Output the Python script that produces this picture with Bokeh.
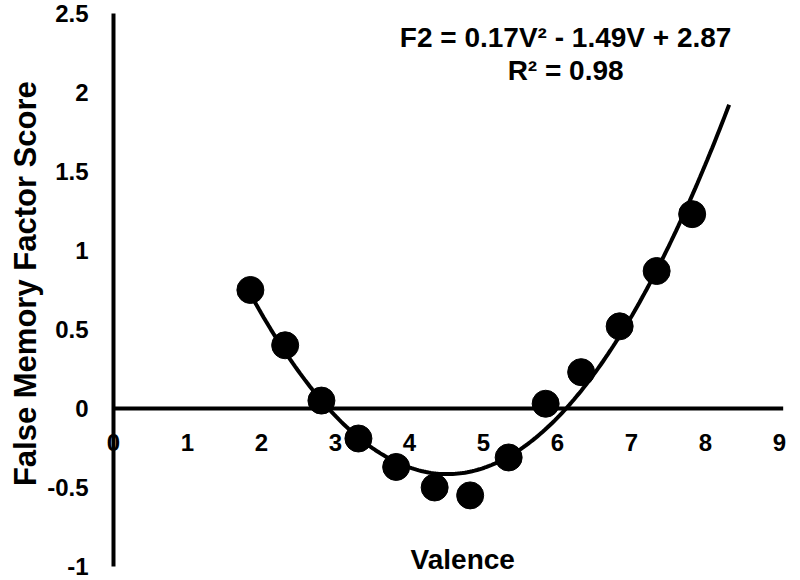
import numpy as np
from bokeh.plotting import figure
from bokeh.models import Range1d, Label
from bokeh.core.properties import value
from bokeh.embed import file_html
from bokeh.resources import INLINE

# ---- data ----
valence = [1.85, 2.32, 2.81, 3.31, 3.82, 4.34, 4.82, 5.34, 5.84, 6.32, 6.84, 7.34, 7.82]
f2_score = [0.75, 0.40, 0.05, -0.19, -0.37, -0.50, -0.55, -0.31, 0.03, 0.23, 0.52, 0.87, 1.23]
trend_extent = [1.8, 8.32]
x_ticks = [0, 1, 2, 3, 4, 5, 6, 7, 8, 9]
x_tick_labels = ["0", "1", "2", "3", "4", "5", "6", "7", "8", "9"]
y_ticks = [-1, -0.5, 0, 0.5, 1, 1.5, 2, 2.5]
y_tick_labels = ["-1", "-0.5", "0", "0.5", "1", "1.5", "2", "2.5"]
x_axis_end = 9.05
equation_text = "F2 = 0.17V\u00b2 - 1.49V + 2.87"
r2_text = "R\u00b2 = 0.98"
x_title = "Valence"
y_title = "False Memory Factor Score"

FONT = "Liberation Sans"

p = figure(width=800, height=580, output_backend="svg", toolbar_location=None,
           x_range=Range1d(-1.527, 9.284), y_range=Range1d(-1.0886, 2.582),
           x_axis_type=None, y_axis_type=None, min_border=0)
p.outline_line_color = None
p.grid.visible = False
p.background_fill_color = "white"
p.border_fill_color = "white"

# tick labels
p.text(x=[0] * len(y_ticks), y=y_ticks, text=y_tick_labels,
       text_font=value(FONT), text_font_style="bold", text_font_size="24px",
       text_color="black", text_align="right", text_baseline="middle", x_offset=-25)
p.text(x=x_ticks, y=[0] * len(x_ticks), text=x_tick_labels,
       text_font=value(FONT), text_font_style="bold", text_font_size="24px",
       text_color="black", text_align="center", text_baseline="middle", y_offset=34)

# axis lines through the origin
p.segment(x0=[0], y0=[y_ticks[0]], x1=[0], y1=[y_ticks[-1]], line_color="black", line_width=4)
p.segment(x0=[0], y0=[0], x1=[x_axis_end], y1=[0], line_color="black", line_width=4)

# quadratic trend line fitted to the points
coef = np.polyfit(valence, f2_score, 2)
vv = np.linspace(trend_extent[0], trend_extent[1], 200)
p.line(vv, np.polyval(coef, vv), line_color="black", line_width=4)

# points
p.scatter(valence, f2_score, size=27, fill_color="black", line_color="black")

# equation
p.add_layout(Label(x=6.11, y=2.35, text=equation_text, text_align="center", text_baseline="middle",
                   text_font=FONT, text_font_style="bold", text_font_size="28px", text_color="black"))
p.add_layout(Label(x=6.11, y=2.14, text=r2_text, text_align="center", text_baseline="middle",
                   text_font=FONT, text_font_style="bold", text_font_size="28px", text_color="black"))

# axis titles
p.add_layout(Label(x=4.72, y=-0.955, text=x_title, text_align="center", text_baseline="middle",
                   text_font=FONT, text_font_style="bold", text_font_size="28px", text_color="black"))
p.add_layout(Label(x=-1.19, y=0.79, text=y_title, text_align="center", text_baseline="middle",
                   angle=np.pi / 2, angle_units="rad",
                   text_font=FONT, text_font_style="bold", text_font_size="31px", text_color="black"))

open("out.html", "w").write(file_html(p, INLINE))
